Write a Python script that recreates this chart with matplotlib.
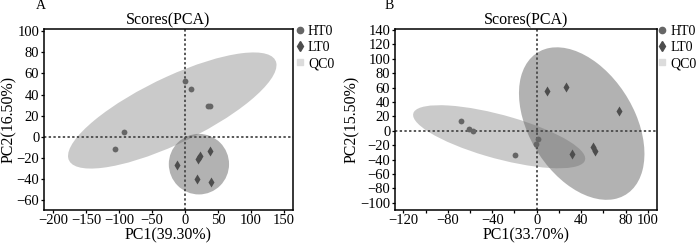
import matplotlib
matplotlib.use("Agg")
import matplotlib.pyplot as plt
from matplotlib.patches import Ellipse
from matplotlib.lines import Line2D

plt.rcParams['font.family'] = ['Liberation Serif', 'DejaVu Serif']

# panel A data
a_ht_x = [0.5, 9.7, 35, 38, -92.4, -106]
a_ht_y = [52.6, 45.5, 29, 28.8, 4.5, -11.1]
a_lt_x = [-11.7, 17.7, 20.2, 22.7, 37.9, 38.9]
a_lt_y = [-26.2, -40.1, -20.6, -17.8, -13, -42.6]
# ellipse: center x, center y, width, height, angle
a_ht_ell = [-19.4, 25, 328.6, 66.0, 15.8]
a_lt_ell = [21.1, -25.7, 91.5, 57.2, 0]

# panel B data
b_ht_x = [-68.2, -61, -57.7, -19.5, -0.6, 1.5]
b_ht_y = [13.9, 1.9, -0.9, -33.3, -18.5, -11.1]
b_lt_x = [9, 26.7, 74.4, 32.1, 50.7, 52.5]
b_lt_y = [55.2, 60.7, 27.8, -32, -22.7, -27.8]
b_ht_ell = [-33.8, -8.3, 168.2, 58.2, -24.5]
b_lt_ell = [40.5, 10, 217.8, 100.8, 105.3]

groups = ["HT0", "LT0", "QC0"]

a_xticks = [-200, -150, -100, -50, 0, 50, 100, 150]
a_yticks = [-60, -40, -20, 0, 20, 40, 60, 80, 100]
b_xticks = list(range(-120, 101, 20))
b_xlabels = ["\u2212120", "", "\u221280", "", "\u221240", "", "0", "", "40", "", "80", "100"]
b_yticks = list(range(-100, 141, 20))

ht_col = "#666666"
lt_col = "#4d4d4d"
qc_col = "#dcdcdc"

fig = plt.figure(figsize=(7, 2.43), dpi=100)
axA = fig.add_axes([43.5/700, 33/243, 249.5/700, 181/243])
axB = fig.add_axes([394.5/700, 33/243, 262.2/700, 181/243])


def panel(ax, htx, hty, ltx, lty, e1, e2, xlim, ylim, xlab, ylab, leg_x):
    ax.add_patch(Ellipse((e1[0], e1[1]), e1[2], e1[3], angle=e1[4],
                         facecolor="#8a8a8a", alpha=0.45, edgecolor="none", zorder=1))
    ax.add_patch(Ellipse((e2[0], e2[1]), e2[2], e2[3], angle=e2[4],
                         facecolor="#666666", alpha=0.5, edgecolor="none", zorder=1))
    ax.axhline(0, color="#4a4a4a", lw=1.3, ls=(0, (1.3, 1.3)), zorder=2)
    ax.axvline(0, color="#4a4a4a", lw=1.3, ls=(0, (1.3, 1.3)), zorder=2)
    ax.plot(htx, hty, "o", color=ht_col, ms=4.2, mec="none", zorder=3)
    ax.plot(ltx, lty, "d", color=lt_col, ms=5.6, mec="none", zorder=3)
    ax.set_xlim(xlim)
    ax.set_ylim(ylim)
    ax.set_title("Scores(PCA)", fontsize=11.5, pad=3.5)
    ax.set_xlabel(xlab, fontsize=11.5, labelpad=0)
    ax.set_ylabel(ylab, fontsize=11.5, labelpad=0)
    ax.tick_params(direction="out", length=2.5, width=0.9, labelsize=10.5, pad=0.5)
    for s in ax.spines.values():
        s.set_linewidth(1.1)
    handles = [Line2D([], [], marker="o", ls="", color=ht_col, ms=4.5),
               Line2D([], [], marker="d", ls="", color=lt_col, ms=5.5),
               Line2D([], [], marker="s", ls="", color=qc_col, ms=4.5)]
    ax.legend(handles, groups, loc="upper left", bbox_to_anchor=(leg_x, 1.022),
              frameon=False, fontsize=10, handlelength=0.6, handletextpad=0.3,
              labelspacing=0.22, borderpad=0, borderaxespad=0)


panel(axA, a_ht_x, a_ht_y, a_lt_x, a_lt_y, a_ht_ell, a_lt_ell,
      (-215, 164), (-69, 102), "PC1(39.30%)", "PC2(16.50%)", 1.01)
axA.set_xticks(a_xticks)
axA.set_yticks(a_yticks)

panel(axB, b_ht_x, b_ht_y, b_lt_x, b_lt_y, b_ht_ell, b_lt_ell,
      (-128, 108), (-110, 141.3), "PC1(33.70%)", "PC2(15.50%)", 1.004)
axB.set_xticks(b_xticks)
axB.set_xticklabels(b_xlabels)
axB.set_yticks(b_yticks)

fig.text(36/700, 1 - 9/243, "A", fontsize=10)
fig.text(385/700, 1 - 9/243, "B", fontsize=10)

fig.savefig("out.png", dpi=100)
